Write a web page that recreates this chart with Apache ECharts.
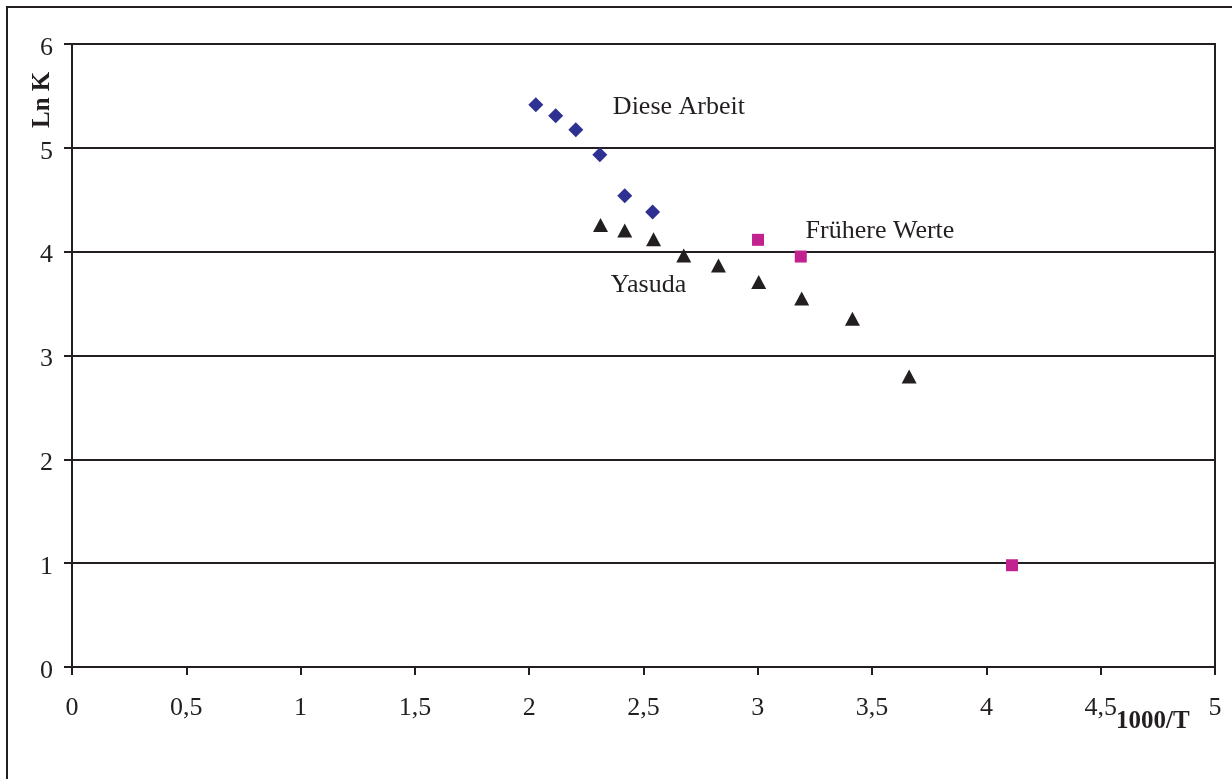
<!DOCTYPE html>
<html>
<head>
<meta charset="utf-8">
<script src="https://cdn.jsdelivr.net/npm/echarts@6/dist/echarts.min.js"></script>
<style>
html,body{margin:0;padding:0;background:#fff;}
#chart{width:1232px;height:779px;}
</style>
</head>
<body>
<div id="chart"></div>
<script>
// Data
const dieseArbeitX = [2.029, 2.116, 2.204, 2.309, 2.418, 2.540];
const dieseArbeitY = [5.414, 5.308, 5.173, 4.933, 4.538, 4.383];
const yasudaX = [2.312, 2.418, 2.544, 2.676, 2.828, 3.004, 3.192, 3.414, 3.662];
const yasudaY = [4.258, 4.203, 4.120, 3.962, 3.866, 3.709, 3.548, 3.353, 2.797];
const fruehereX = [3.001, 3.188, 4.112];
const fruehereY = [4.114, 3.953, 0.980];
const labelTexts = ['Diese Arbeit', 'Frühere Werte', 'Yasuda'];
const labelX = [2.366, 3.209, 2.357];
const labelY = [5.395, 4.200, 3.680];
const xTitle = '1000/T';
const yTitle = 'Ln K';

const zip = (a, b) => a.map((v, i) => [v, b[i]]);
const ink = '#231F20';
const font = 'Liberation Serif';

const chart = echarts.init(document.getElementById('chart'));
chart.setOption({
  backgroundColor: '#fff',
  animation: false,
  graphic: [{
    type: 'rect',
    shape: { x: 7, y: 7, width: 1400, height: 1000 },
    style: { fill: 'none', stroke: ink, lineWidth: 2 },
    z: 0
  }, {
    type: 'text',
    left: 1116, top: 709,
    style: { text: xTitle, font: 'bold 25px "Liberation Serif"', fill: ink }
  }, {
    type: 'text',
    x: 30, y: 128,
    rotation: Math.PI / 2,
    style: { text: yTitle, font: 'bold 25px "Liberation Serif"', fill: ink, textVerticalAlign: 'top' },
    originX: 0, originY: 0
  }],
  grid: { left: 72, top: 44, right: 17, bottom: 112, show: true, borderColor: ink, borderWidth: 2, backgroundColor: 'transparent' },
  xAxis: {
    type: 'value', min: 0, max: 5, interval: 0.5,
    axisLine: { show: true, lineStyle: { color: ink, width: 2 } },
    axisTick: { show: true, length: 8, lineStyle: { color: ink, width: 2 } },
    splitLine: { show: false },
    axisLabel: {
      margin: 28, color: ink, fontFamily: font, fontSize: 26,
      formatter: v => String(v).replace('.', ',')
    }
  },
  yAxis: {
    type: 'value', min: 0, max: 6, interval: 1,
    axisLine: { show: true, lineStyle: { color: ink, width: 2 } },
    axisTick: { show: true, length: 8, lineStyle: { color: ink, width: 2 } },
    splitLine: { show: true, lineStyle: { color: ink, width: 2 } },
    axisLabel: { margin: 19, color: ink, fontFamily: font, fontSize: 26, verticalAlign: 'top', lineHeight: 8 }
  },
  series: [{
    type: 'scatter', name: 'Diese Arbeit',
    data: zip(dieseArbeitX, dieseArbeitY),
    symbol: 'diamond', symbolSize: [15, 15],
    itemStyle: { color: '#2E3192', opacity: 1 }, z: 5
  }, {
    type: 'scatter', name: 'Yasuda',
    data: zip(yasudaX, yasudaY),
    symbol: 'triangle', symbolSize: [15, 14],
    itemStyle: { color: ink, opacity: 1 }, z: 5
  }, {
    type: 'scatter', name: 'Frühere Werte',
    data: zip(fruehereX, fruehereY),
    symbol: 'rect', symbolSize: 12,
    itemStyle: { color: '#C2228F', opacity: 1 }, z: 5
  }, {
    type: 'scatter', name: 'labels',
    data: labelX.map((x, i) => ({ value: [x, labelY[i]], label: { formatter: labelTexts[i] } })),
    symbolSize: 0,
    silent: true,
    itemStyle: { opacity: 1 },
    label: {
      show: true, position: 'right', distance: 0,
      color: ink, fontFamily: font, fontSize: 26, opacity: 1
    }
  }]
});
</script>
</body>
</html>
